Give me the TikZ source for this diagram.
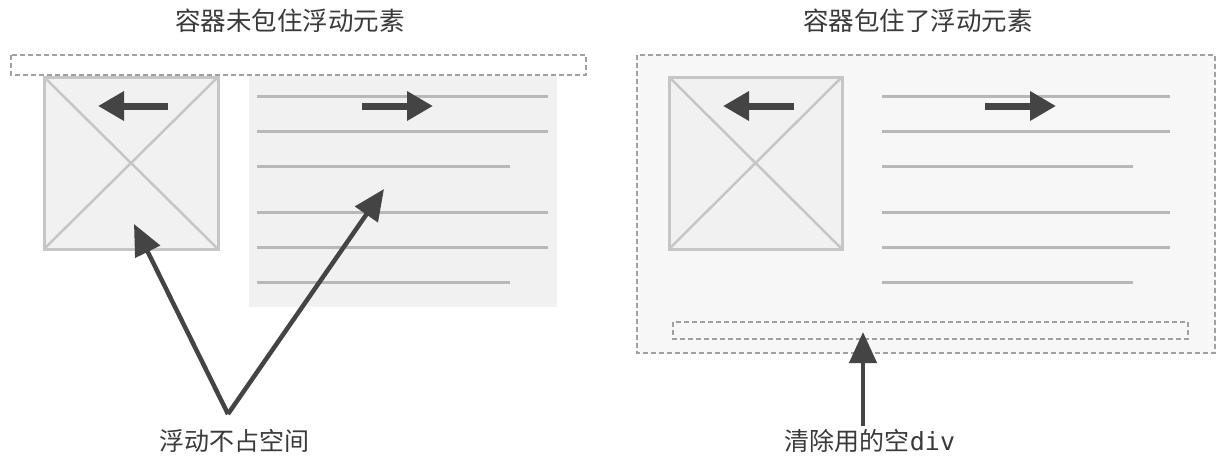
\documentclass[tikz,border=0pt]{standalone}
\usepackage{fontspec}
\setmainfont{Noto Sans CJK SC}
\newfontfamily\cjkfont{Noto Sans CJK SC}
\newfontfamily\monofont{DejaVu Sans Mono}
\usetikzlibrary{arrows.meta}
\definecolor{txt}{HTML}{3A3A3A}
\definecolor{dark}{HTML}{444444}
\definecolor{fillg}{HTML}{F1F1F1}
\definecolor{contg}{HTML}{F7F7F7}
\definecolor{boxline}{HTML}{C6C6C6}
\definecolor{textline}{HTML}{B8B8B8}
\definecolor{dashg}{HTML}{A0A0A0}
\tikzset{
  title/.style={font=\cjkfont\fontsize{25.5}{30}\selectfont, text=txt, inner sep=0pt},
  label/.style={font=\cjkfont\fontsize{25}{30}\selectfont, text=txt, inner sep=0pt},
  dashbox/.style={draw=dashg, line width=1.2pt, dash pattern=on 5pt off 3pt},
  imgbox/.style={draw=boxline, fill=fillg, line width=3pt},
  xline/.style={draw=boxline, line width=2.5pt},
  tline/.style={draw=textline, line width=3pt},
  dirarrow/.style={draw=dark, line width=7pt, -{Triangle[length=26pt,width=28pt]}},
  pointer/.style={draw=dark, line width=4.5pt, -{Triangle[length=31pt,width=27pt]}},
}
\begin{document}
\begin{tikzpicture}[x=1pt,y=-1pt]
\useasboundingbox (0,0) rectangle (1230,467);
\fill[white] (0,0) rectangle (1230,467);

% ---------- left panel ----------
\node[title] (t1) at (290,21) {容器未包住浮动元素};
\fill[fillg] (249,76) rectangle (557,307);
\draw[dashbox] (11,55) rectangle (586,75);
\draw[imgbox] (44,77) rectangle (218,249);
\draw[xline] (44,77) -- (218,249);
\draw[xline] (218,77) -- (44,249);
\foreach \y/\e in {96/548,131/548,166/510,212/548,247/548,282/510}
  \draw[tline] (257,\y) -- (\e,\y);
\coordinate (la1) at (168,106); \coordinate (la2) at (98,106);
\draw[dirarrow] (la1) -- (la2);
\coordinate (ra1) at (362,106); \coordinate (ra2) at (433,106);
\draw[dirarrow] (ra1) -- (ra2);
\coordinate (apex) at (228,414);
\coordinate (tipA) at (134,224);
\coordinate (tipB) at (384,189);
\draw[pointer] (apex) -- (tipA);
\draw[pointer] (apex) -- (tipB);
\node[label] (l1) at (234,441) {浮动不占空间};

% ---------- right panel ----------
\node[title] (t2) at (918,21) {容器包住了浮动元素};
\fill[contg] (637,55) rectangle (1215,353);
\draw[dashbox] (637,55) rectangle (1215,353);
\draw[imgbox] (669,77) rectangle (842,249);
\draw[xline] (669,77) -- (842,249);
\draw[xline] (842,77) -- (669,249);
\foreach \y/\e in {96/1170,131/1170,166/1133,212/1170,247/1170,282/1133}
  \draw[tline] (882,\y) -- (\e,\y);
\coordinate (lb1) at (794,106); \coordinate (lb2) at (723,106);
\draw[dirarrow] (lb1) -- (lb2);
\coordinate (rb1) at (985,106); \coordinate (rb2) at (1056,106);
\draw[dirarrow] (rb1) -- (rb2);
\draw[dashbox] (673,322) rectangle (1188,339);
\coordinate (upbase) at (863,426);
\coordinate (uptip) at (863,332);
\draw[pointer] (upbase) -- (uptip);
\node[label] (l2) at (870,441) {清除用的空{\monofont div}};
\end{tikzpicture}
\end{document}
